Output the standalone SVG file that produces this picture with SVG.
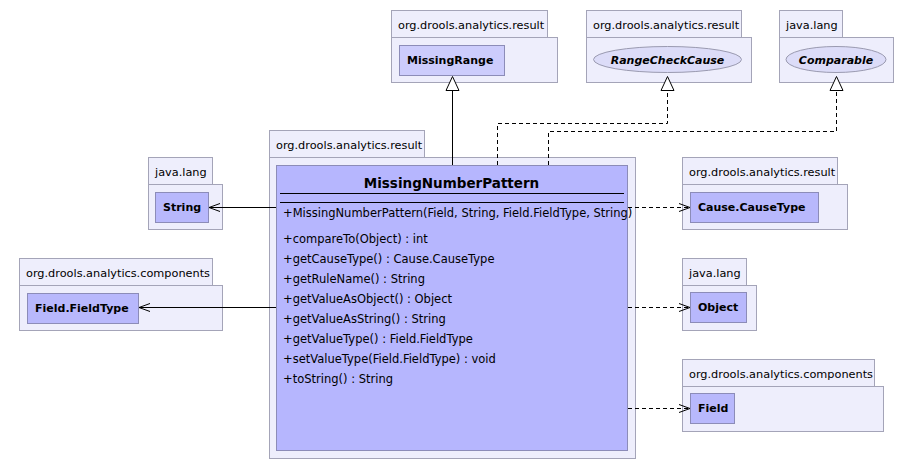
<svg xmlns="http://www.w3.org/2000/svg" width="914" height="469" viewBox="0 0 914 469">
<defs>
<style>
.pkg{fill:#eeeefc;stroke:#a4a4b8;stroke-width:1}
.cls{fill:#b8b8fc;stroke:#8c8cb8;stroke-width:1}
.cls2{fill:#ccccfc;stroke:#8c8cb8;stroke-width:1}
.main{fill:#b6b6fe;stroke:#8c8cb8;stroke-width:1}
.ell{fill:#dcdcf8;stroke:#9a9ab0;stroke-width:1}
.pl{font-family:"DejaVu Sans",sans-serif;font-size:11.3px;fill:#000}
.cn{font-family:"DejaVu Sans",sans-serif;font-size:11px;font-weight:bold;fill:#000}
.in{font-family:"DejaVu Sans",sans-serif;font-size:11px;font-weight:bold;font-style:italic;fill:#000;text-anchor:middle}
.ttl{font-family:"DejaVu Sans",sans-serif;font-size:13.5px;font-weight:bold;fill:#000;text-anchor:middle}
.mem{font-family:"DejaVu Sans",sans-serif;font-size:11.5px;fill:#000}
.ln{stroke:#000;stroke-width:1;fill:none}
.dash{stroke:#000;stroke-width:1;fill:none;stroke-dasharray:4,3}
.tri{fill:#fff;stroke:#000;stroke-width:1}
</style>
<marker id="open" markerWidth="14" markerHeight="12" refX="12" refY="5" orient="auto" markerUnits="userSpaceOnUse" viewBox="0 0 14 10">
<path d="M1,1 L12,5 L1,9" fill="none" stroke="#000" stroke-width="1"/>
</marker>
</defs>
<rect width="914" height="469" fill="#fff"/>

<g id="pkg-missingrange">
<rect class="pkg" x="391.5" y="10.5" width="156" height="27"/>
<rect class="pkg" x="391.5" y="37.5" width="166" height="45"/>
<text class="pl" x="398" y="29">org.drools.analytics.result</text>
<g id="MissingRange">
<rect class="cls2" x="399.5" y="45.5" width="105" height="30"/>
<text class="cn" x="407" y="64">MissingRange</text>
</g>
</g>

<g id="pkg-rangecheckcause">
<rect class="pkg" x="586.5" y="10.5" width="155" height="27"/>
<rect class="pkg" x="586.5" y="37.5" width="165" height="45"/>
<text class="pl" x="593" y="29">org.drools.analytics.result</text>
<g id="RangeCheckCause">
<ellipse class="ell" cx="667.5" cy="59.5" rx="74" ry="13"/>
<text class="in" x="667.5" y="63.5">RangeCheckCause</text>
</g>
</g>

<g id="pkg-comparable">
<rect class="pkg" x="779.5" y="10.5" width="63" height="27"/>
<rect class="pkg" x="779.5" y="37.5" width="114" height="45"/>
<text class="pl" x="786" y="29">java.lang</text>
<g id="Comparable">
<ellipse class="ell" cx="836" cy="59.5" rx="50" ry="13"/>
<text class="in" x="836" y="63.5">Comparable</text>
</g>
</g>

<g id="pkg-main">
<rect class="pkg" x="269.5" y="130.5" width="155" height="27"/>
<rect class="pkg" x="269.5" y="157.5" width="366" height="301"/>
<text class="pl" x="276" y="149">org.drools.analytics.result</text>
<g id="MissingNumberPattern">
<rect class="main" x="276.5" y="165.5" width="351" height="285"/>
<text class="ttl" x="451.5" y="188">MissingNumberPattern</text>
<line class="ln" x1="280" y1="193.5" x2="624" y2="193.5"/>
<line class="ln" x1="280" y1="202.5" x2="624" y2="202.5"/>
<text class="mem" x="283" y="217">+MissingNumberPattern(Field, String, Field.FieldType, String)</text>
<text class="mem" x="283" y="243">+compareTo(Object) : int</text>
<text class="mem" x="283" y="263">+getCauseType() : Cause.CauseType</text>
<text class="mem" x="283" y="283">+getRuleName() : String</text>
<text class="mem" x="283" y="303">+getValueAsObject() : Object</text>
<text class="mem" x="283" y="323">+getValueAsString() : String</text>
<text class="mem" x="283" y="343">+getValueType() : Field.FieldType</text>
<text class="mem" x="283" y="363">+setValueType(Field.FieldType) : void</text>
<text class="mem" x="283" y="383">+toString() : String</text>
</g>
</g>

<g id="pkg-string">
<rect class="pkg" x="148.5" y="157.5" width="64" height="27"/>
<rect class="pkg" x="148.5" y="184.5" width="74" height="45"/>
<text class="pl" x="155" y="176">java.lang</text>
<g id="String">
<rect class="cls" x="155.5" y="192.5" width="53" height="30"/>
<text class="cn" x="163" y="211">String</text>
</g>
</g>

<g id="pkg-fieldtype">
<rect class="pkg" x="19.5" y="258.5" width="193" height="27"/>
<rect class="pkg" x="19.5" y="285.5" width="203" height="45"/>
<text class="pl" x="26" y="277">org.drools.analytics.components</text>
<g id="Field.FieldType">
<rect class="cls" x="27.5" y="293.5" width="111" height="30"/>
<text class="cn" x="35" y="312">Field.FieldType</text>
</g>
</g>

<g id="pkg-causetype">
<rect class="pkg" x="682.5" y="157.5" width="155" height="27"/>
<rect class="pkg" x="682.5" y="184.5" width="165" height="45"/>
<text class="pl" x="689" y="176">org.drools.analytics.result</text>
<g id="Cause.CauseType">
<rect class="cls" x="690.5" y="192.5" width="128" height="30"/>
<text class="cn" x="698" y="211">Cause.CauseType</text>
</g>
</g>

<g id="pkg-object">
<rect class="pkg" x="682.5" y="258.5" width="64" height="27"/>
<rect class="pkg" x="682.5" y="285.5" width="74" height="45"/>
<text class="pl" x="689" y="277">java.lang</text>
<g id="Object">
<rect class="cls" x="690.5" y="292.5" width="56" height="30"/>
<text class="cn" x="698" y="311">Object</text>
</g>
</g>

<g id="pkg-field">
<rect class="pkg" x="682.5" y="359.5" width="192" height="27"/>
<rect class="pkg" x="682.5" y="386.5" width="201" height="45"/>
<text class="pl" x="689" y="378">org.drools.analytics.components</text>
<g id="Field">
<rect class="cls" x="690.5" y="393.5" width="44" height="30"/>
<text class="cn" x="698" y="412">Field</text>
</g>
</g>

<g id="connectors">
<line class="ln" x1="452.5" y1="165" x2="452.5" y2="90"/>
<polygon class="tri" points="452.5,76.5 446,90.5 459,90.5"/>
<polyline class="dash" points="497.5,165 497.5,123.5 667.5,123.5 667.5,90"/>
<polygon class="tri" points="667.5,76.5 661,90.5 674,90.5"/>
<polyline class="dash" points="548.5,165 548.5,131.5 836.5,131.5 836.5,90"/>
<polygon class="tri" points="836.5,76.5 830,90.5 843,90.5"/>
<line class="ln" x1="276" y1="207.5" x2="209" y2="207.5" marker-end="url(#open)"/>
<line class="ln" x1="276" y1="307.5" x2="139" y2="307.5" marker-end="url(#open)"/>
<line class="dash" x1="628" y1="207.5" x2="690" y2="207.5" marker-end="url(#open)"/>
<line class="dash" x1="628" y1="307.5" x2="690" y2="307.5" marker-end="url(#open)"/>
<line class="dash" x1="628" y1="408.5" x2="690" y2="408.5" marker-end="url(#open)"/>
</g>
</svg>
